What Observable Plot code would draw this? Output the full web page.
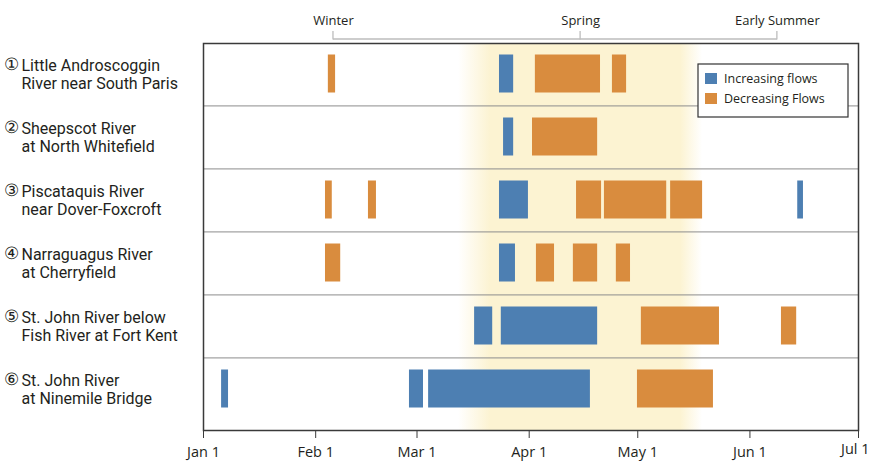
<!DOCTYPE html>
<html><head><meta charset="utf-8">
<script src="https://cdn.jsdelivr.net/npm/d3@7"></script>
<script src="https://cdn.jsdelivr.net/npm/@observablehq/plot@0.6"></script>
<style>
html,body{margin:0;padding:0;background:#fff;}
#chart svg{display:block;}
</style></head><body><div id="chart"></div>
<script>
// ---- data ----
const riverNumbers = ["①","②","③","④","⑤","⑥"];
const riverNames = [
  "Little Androscoggin\nRiver near South Paris",
  "Sheepscot River\nat North Whitefield",
  "Piscataquis River\nnear Dover-Foxcroft",
  "Narraguagus River\nat Cherryfield",
  "St. John River below\nFish River at Fort Kent",
  "St. John River\nat Ninemile Bridge"
];
const seriesNames = ["Increasing flows", "Decreasing Flows"];
const seriesColors = ["#4d7fb2", "#d98c3e"];
const INC = seriesNames[0], DEC = seriesNames[1];

// periods: [type, start "mm-dd hh", end "mm-dd hh"]
const littleAndroscoggin = [[DEC,"02-04 12","02-06 12"],[INC,"03-23 19","03-27 17"],[DEC,"04-02 17","04-20 17"],[DEC,"04-24 00","04-27 22"]];
const sheepscot = [[INC,"03-24 22","03-27 17"],[DEC,"04-01 22","04-19 22"]];
const piscataquis = [[DEC,"02-03 17","02-05 14"],[DEC,"02-15 14","02-17 19"],[INC,"03-23 19","03-31 19"],[DEC,"04-14 02","04-21 00"],[DEC,"04-21 19","05-09 00"],[DEC,"05-10 02","05-18 22"],[INC,"06-14 05","06-15 19"]];
const narraguagus = [[DEC,"02-03 17","02-07 22"],[INC,"03-23 19","03-28 05"],[DEC,"04-03 00","04-08 00"],[DEC,"04-13 05","04-19 22"],[DEC,"04-25 02","04-29 00"]];
const stJohnFortKent = [[INC,"03-16 22","03-21 22"],[INC,"03-24 07","04-19 22"],[DEC,"05-02 00","05-23 14"],[DEC,"06-09 17","06-13 22"]];
const stJohnNinemile = [[INC,"01-06 00","01-07 22"],[INC,"02-26 22","03-02 19"],[INC,"03-04 05","04-17 22"],[DEC,"04-30 22","05-21 22"]];
const riverPeriods = [littleAndroscoggin, sheepscot, piscataquis, narraguagus, stJohnFortKent, stJohnNinemile];

const tickLabels = ["Jan 1","Feb 1","Mar 1","Apr 1","May 1","Jun 1","Jul 1"];
const seasonNames = ["Winter","Spring","Early Summer"];
const seasonDates = ["02-05 22","04-15 05","06-08 14"];
const springPeriod = ["03-12 12","05-18 22"];

// ---- build ----
const parse = d3.utcParse("%m-%d %H");
const tickDates = tickLabels.map(d3.utcParse("%b %d"));
const lastTick = tickDates[tickDates.length - 1];
const segments = [];
riverPeriods.forEach((rows, i) => rows.forEach(([type, s, e]) =>
  segments.push({river: riverNames[i], type, start: parse(s), end: parse(e)})));
const seasons = seasonNames.map((name, i) => ({name, date: parse(seasonDates[i])}));
const spring = [{start: parse(springPeriod[0]), end: parse(springPeriod[1])}];

const yRange = [39, 422];
const step = (yRange[1] - yRange[0]) / riverNames.length;

const overlay = (index, scales) => {
  const x = scales.x;
  const g = d3.create("svg:g");
  // season bracket
  const xs = seasons.map(s => x(s.date));
  g.append("line").attr("x1", xs[0]).attr("x2", xs[xs.length-1]).attr("y1", 39).attr("y2", 39)
    .attr("stroke", "#bdbdbd").attr("stroke-width", 1.3);
  xs.forEach(v => g.append("line").attr("x1", v).attr("x2", v).attr("y1", 31).attr("y2", 39.5)
    .attr("stroke", "#bdbdbd").attr("stroke-width", 1.3));
  // legend
  const lg = g.append("g").attr("text-anchor", "start");
  lg.append("rect").attr("x", 698).attr("y", 64).attr("width", 150).attr("height", 53)
    .attr("fill", "#fff").attr("stroke", "#333").attr("stroke-width", 1.2);
  seriesNames.forEach((n, i) => {
    lg.append("rect").attr("x", 705).attr("y", 73 + i*20).attr("width", 12).attr("height", 11)
      .attr("fill", scales.color(n));
    lg.append("text").attr("x", 724).attr("y", 78.5 + i*20).attr("dy", "0.35em")
      .attr("font-size", 12.5).attr("fill", "#231f20").text(n);
  });
  return g.node();
};

const fmt = d3.utcFormat("%b %-d");

const plot = Plot.plot({
  width: 870, height: 470,
  marginLeft: 203, marginRight: 12, marginTop: 43, marginBottom: 40,
  style: {fontFamily: "'Open Sans', sans-serif", color: "#231f20", background: "#fff", overflow: "visible"},
  x: {type: "utc", domain: [tickDates[0], lastTick]},
  y: {type: "band", domain: riverNames, range: yRange, padding: 0, axis: null},
  color: {domain: seriesNames, range: seriesColors},
  marks: [
    Plot.rect(spring, {x1: "start", x2: "end", fill: "url(#springGrad)"}),
    Plot.ruleY(riverNames.slice(0, -1), {y: d => d, dy: step/2, stroke: "#8c8c8c", strokeWidth: 1}),
    Plot.barX(segments, {x1: "start", x2: "end", y: "river", fill: "type", insetTop: 12.5, insetBottom: 12.5}),
    Plot.frame({stroke: "#3a3a3a", strokeWidth: 1.5}),
    Plot.axisX({ticks: tickDates, tickFormat: d => (+d === +lastTick ? "" : fmt(d)), tickSize: 8, tickPadding: 8, fontSize: 14.5, label: null, stroke: "#3a3a3a"}),
    Plot.text([lastTick], {x: d => d, text: d => fmt(d), frameAnchor: "bottom", dy: 23, textAnchor: "end", dx: 11, fontSize: 14.5, fill: "#231f20"}),
    Plot.text(riverNames, {y: d => d, text: d => d, frameAnchor: "left", dx: -182, textAnchor: "start", lineAnchor: "middle", fontSize: 16, lineHeight: 1.18, fontFamily: "Roboto, sans-serif", fill: "#231f20"}),
    Plot.text(riverNames, {y: d => d, text: (d, i) => riverNumbers[i], frameAnchor: "left", dx: -200, dy: -9.5, textAnchor: "start", fontSize: 16.5, fill: "#231f20"}),
    Plot.text(seasons, {x: "date", text: "name", frameAnchor: "top", dy: -28, fontSize: 13, fill: "#231f20"}),
    overlay
  ]
});

const svg = d3.select(plot);
const defs = svg.insert("defs", ":first-child");
const grad = defs.append("linearGradient").attr("id", "springGrad").attr("x1", 0).attr("x2", 1).attr("y1", 0).attr("y2", 0);
[[0, 0], [0.13, 1], [0.91, 1], [1, 0]].forEach(([o, a]) =>
  grad.append("stop").attr("offset", o).attr("stop-color", "#fcf3d2").attr("stop-opacity", a));

document.getElementById("chart").appendChild(plot);
</script></body></html>
